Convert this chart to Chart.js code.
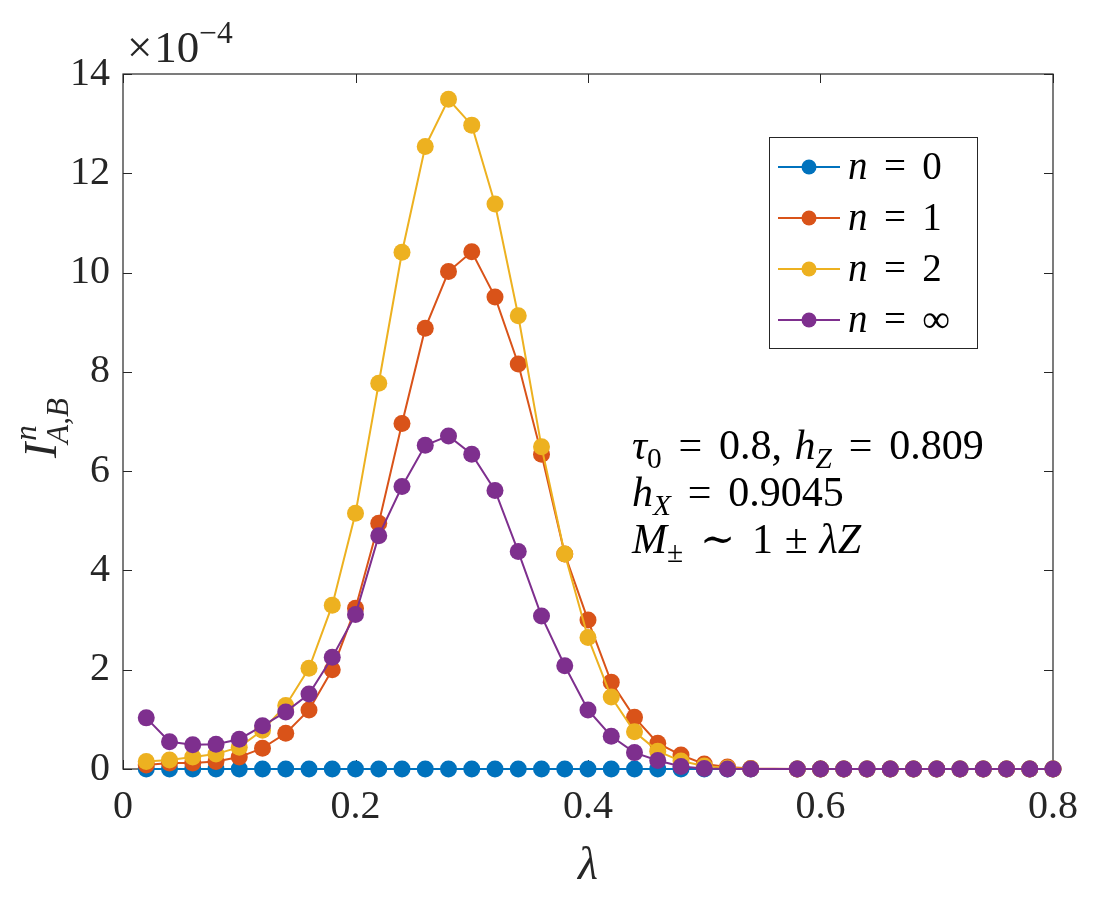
<!DOCTYPE html>
<html>
<head>
<meta charset="utf-8">
<script src="https://cdn.jsdelivr.net/npm/chart.js@4.4.1/dist/chart.umd.min.js"></script>
<style>
  html, body { margin: 0; padding: 0; background: #fff; }
  #wrap { width: 1112px; height: 899px; }
</style>
</head>
<body>
<div id="wrap"><canvas id="myChart" width="1112" height="899"></canvas></div>
<script>
// lambda values (0.56 is absent in the source figure)
const lambda = [0.02, 0.04, 0.06, 0.08, 0.10, 0.12, 0.14, 0.16, 0.18, 0.20,
  0.22, 0.24, 0.26, 0.28, 0.30, 0.32, 0.34, 0.36, 0.38, 0.40,
  0.42, 0.44, 0.46, 0.48, 0.50, 0.52, 0.54,
  0.58, 0.60, 0.62, 0.64, 0.66, 0.68, 0.70, 0.72, 0.74, 0.76, 0.78, 0.80];

// values in units of 1e-4
const n0 = [0, 0, 0, 0, 0, 0, 0, 0, 0, 0,
  0, 0, 0, 0, 0, 0, 0, 0, 0, 0,
  0, 0, 0, 0, 0, 0, 0,
  0, 0, 0, 0, 0, 0, 0, 0, 0, 0, 0, 0];
const n1 = [0.08, 0.12, 0.12, 0.15, 0.24, 0.42, 0.72, 1.19, 2.00, 3.24,
  4.95, 6.96, 8.88, 10.02, 10.42, 9.51, 8.16, 6.34, 4.33, 3.00,
  1.75, 1.04, 0.52, 0.28, 0.10, 0.04, 0.01,
  0, 0, 0, 0, 0, 0, 0, 0, 0, 0, 0, 0];
const n2 = [0.15, 0.18, 0.24, 0.30, 0.44, 0.78, 1.28, 2.03, 3.30, 5.15,
  7.77, 10.41, 12.54, 13.49, 12.97, 11.38, 9.13, 6.49, 4.33, 2.65,
  1.45, 0.75, 0.36, 0.16, 0.06, 0.02, 0.005,
  0, 0, 0, 0, 0, 0, 0, 0, 0, 0, 0, 0];
const nInf = [1.03, 0.55, 0.49, 0.50, 0.60, 0.87, 1.15, 1.51, 2.25, 3.11,
  4.70, 5.69, 6.52, 6.71, 6.34, 5.61, 4.38, 3.08, 2.08, 1.19,
  0.66, 0.33, 0.17, 0.05, 0.01, 0, 0,
  0, 0, 0, 0, 0, 0, 0, 0, 0, 0, 0, 0];

const xTicks = [0, 0.2, 0.4, 0.6, 0.8];
const yTicks = [0, 2, 4, 6, 8, 10, 12, 14];
const seriesNames = ['0', '1', '2', '\u221E'];
const seriesColors = ['#0072BD', '#D95319', '#EDB120', '#7E2F8E'];

const FONT = "'Liberation Serif', 'DejaVu Serif', serif";
const AXC = '#262626';

function pts(ys) {
  return lambda.map((x, i) => ({ x: x, y: ys[i] }));
}

// draw text made of pieces: {t, i (italic), s: 'sub'|'sup', p: pad in em on both sides}
function drawRich(c, x, y, parts, size) {
  let cx = x;
  parts.forEach(p => {
    let sz = size, dy = 0;
    if (p.s === 'sub') { sz = size * 0.7; dy = size * 0.22; }
    if (p.s === 'sup') { sz = size * 0.7; dy = -size * 0.42; }
    const pad = (p.p || 0) * size;
    cx += pad;
    c.font = (p.i ? 'italic ' : '') + sz + 'px ' + FONT;
    c.fillText(p.t, cx, y + dy);
    cx += c.measureText(p.t).width + pad + (p.g || 0) * size;
  });
  return cx;
}

const frame = {
  id: 'frame',
  beforeDatasetsDraw(chart) {
    const c = chart.ctx, a = chart.chartArea;
    const xs = chart.scales.x, ys = chart.scales.y;
    c.save();
    c.strokeStyle = AXC;
    c.lineWidth = 1.2;
    c.strokeRect(a.left, a.top, a.right - a.left, a.bottom - a.top);
    c.lineWidth = 1;
    const tl = 9;
    c.beginPath();
    xTicks.forEach(v => {
      const px = Math.round(xs.getPixelForValue(v)) + 0.5;
      c.moveTo(px, a.bottom); c.lineTo(px, a.bottom - tl);
      c.moveTo(px, a.top); c.lineTo(px, a.top + tl);
    });
    yTicks.forEach(v => {
      const py = Math.round(ys.getPixelForValue(v)) + 0.5;
      c.moveTo(a.left, py); c.lineTo(a.left + tl, py);
      c.moveTo(a.right, py); c.lineTo(a.right - tl, py);
    });
    c.stroke();
    c.restore();
  },
  afterDraw(chart) {
    const c = chart.ctx;
    c.save();
    c.fillStyle = AXC;
    c.textAlign = 'left';
    c.textBaseline = 'alphabetic';

    // exponent label
    drawRich(c, 127, 62, [{ t: '\u00D7', g: 0.04 }, { t: '10' }, { t: '\u22124', s: 'sup' }], 45);

    // x axis title
    c.font = 'italic 46px ' + FONT;
    c.textAlign = 'center';
    c.fillText('\u03BB', 588, 879);

    // y axis title
    c.save();
    c.translate(56, 458);
    c.rotate(-Math.PI / 2);
    c.textAlign = 'left';
    c.font = 'italic 46px ' + FONT;
    const wI = c.measureText('I').width;
    c.fillText('I', 0, 0);
    c.font = 'italic 31px ' + FONT;
    c.fillText('n', wI + 2, -20);
    c.fillText('A,B', wI - 1, 12);
    c.restore();

    // annotation
    c.fillStyle = '#000';
    c.textAlign = 'left';
    const fs = 42;
    drawRich(c, 632, 459, [
      { t: '\u03C4', i: true }, { t: '0', s: 'sub' }, { t: '=', p: 0.4 }, { t: '0.8,', g: 0.3 },
      { t: 'h', i: true }, { t: 'Z', i: true, s: 'sub' }, { t: '=', p: 0.4 }, { t: '0.809' }
    ], fs);
    drawRich(c, 632, 506, [
      { t: 'h', i: true }, { t: 'X', i: true, s: 'sub' }, { t: '=', p: 0.4 }, { t: '0.9045' }
    ], fs);
    drawRich(c, 632, 553, [
      { t: 'M', i: true }, { t: '\u00B1', s: 'sub' }, { t: '\u223C', p: 0.4 }, { t: '1' },
      { t: '\u00B1', p: 0.28 }, { t: '\u03BB', i: true }, { t: 'Z', i: true }
    ], fs);

    // legend box
    const bx = 769, by = 137, bw = 208, bh = 211;
    c.fillStyle = '#fff';
    c.fillRect(bx, by, bw, bh);
    c.strokeStyle = AXC;
    c.lineWidth = 1;
    c.strokeRect(bx + 0.5, by + 0.5, bw, bh);
    const rows = [167, 218, 269, 320];
    rows.forEach((ry, i) => {
      c.strokeStyle = seriesColors[i];
      c.lineWidth = 2;
      c.beginPath();
      c.moveTo(778, ry); c.lineTo(840, ry);
      c.stroke();
      c.fillStyle = seriesColors[i];
      c.beginPath();
      c.arc(809, ry, 7.5, 0, Math.PI * 2);
      c.fill();
      c.fillStyle = '#000';
      drawRich(c, 848, ry + 12, [
        { t: 'n', i: true }, { t: '=', p: 0.42 }, { t: seriesNames[i] }
      ], 39);
    });
    c.restore();
  }
};

const ctx = document.getElementById('myChart');

new Chart(ctx, {
  type: 'line',
  data: {
    datasets: [n0, n1, n2, nInf].map((d, i) => ({
      label: 'n = ' + seriesNames[i],
      data: pts(d),
      borderColor: seriesColors[i],
      backgroundColor: seriesColors[i],
      borderWidth: 2,
      pointRadius: 8.5,
      pointBorderWidth: 0,
      pointHoverRadius: 8.5,
      tension: 0,
      clip: false,
      order: 4 - i
    }))
  },
  options: {
    responsive: false,
    animation: false,
    events: [],
    layout: { padding: { left: 0, right: 59, top: 74, bottom: 0 } },
    plugins: {
      legend: { display: false },
      tooltip: { enabled: false },
      title: { display: false }
    },
    scales: {
      x: {
        type: 'linear',
        min: 0,
        max: 0.8,
        afterBuildTicks(s) { s.ticks = xTicks.map(v => ({ value: v })); },
        afterFit(s) { s.height = 899 - 769; },
        grid: { display: false, drawTicks: false },
        border: { display: false },
        ticks: {
          padding: 14,
          color: AXC,
          font: { family: FONT, size: 40 },
          maxRotation: 0,
          callback: v => (v === 0 ? '0' : v.toFixed(1))
        }
      },
      y: {
        type: 'linear',
        min: 0,
        max: 14,
        afterBuildTicks(s) { s.ticks = yTicks.map(v => ({ value: v })); },
        afterFit(s) { s.width = 123; },
        grid: { display: false, drawTicks: false },
        border: { display: false },
        ticks: {
          padding: 13,
          color: AXC,
          font: { family: FONT, size: 40 },
          callback: v => String(v)
        }
      }
    }
  },
  plugins: [frame]
});
</script>
</body>
</html>
